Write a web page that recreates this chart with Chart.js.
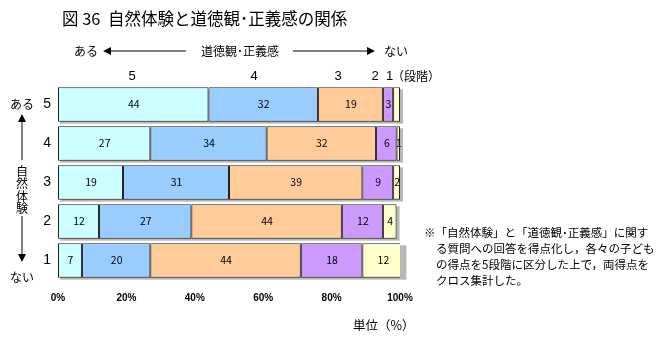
<!DOCTYPE html>
<html>
<head>
<meta charset="utf-8">
<script src="https://cdn.jsdelivr.net/npm/chart.js@4/dist/chart.umd.min.js"></script>
<style>
  body { margin: 0; background: #fff; }
  canvas { display: block; }
</style>
</head>
<body>
<canvas id="chart" width="660" height="338"></canvas>
<script>
// 自然体験の段階 (rows, top to bottom)
var categories = ['5', '4', '3', '2', '1'];
// 道徳観・正義感の段階 (segments, left to right)
var seriesNames = ['5', '4', '3', '2', '1'];
var values5 = [44, 27, 19, 12, 7];
var values4 = [32, 34, 31, 27, 20];
var values3 = [19, 32, 39, 44, 44];
var values2 = [3, 6, 9, 12, 18];
var values1 = [2, 1, 2, 4, 12];
var xTicks = [0, 20, 40, 60, 80, 100];

var colors = ['#ccffff', '#99ccff', '#ffcc99', '#cc99ff', '#ffffcc'];
var FONT = '"Noto Sans CJK JP", "Noto Sans", sans-serif';
var LATIN = '"Liberation Sans", Arial, sans-serif';

var seriesValues = [values5, values4, values3, values2, values1];
var datasets = seriesValues.map(function (v, i) {
    return {
        label: seriesNames[i],
        data: v,
        backgroundColor: colors[i],
        borderColor: '#222',
        borderWidth: 1,
        borderSkipped: false,
        barPercentage: 0.88,
        categoryPercentage: 1.0
    };
});

function arrow(ctx, x1, y1, x2, y2) {
    var ang = Math.atan2(y2 - y1, x2 - x1), h = 8, w = 4;
    ctx.beginPath();
    ctx.moveTo(x1, y1);
    ctx.lineTo(x2 - Math.cos(ang) * h, y2 - Math.sin(ang) * h);
    ctx.stroke();
    ctx.beginPath();
    ctx.moveTo(x2, y2);
    ctx.lineTo(x2 - Math.cos(ang) * h - Math.sin(ang) * w, y2 - Math.sin(ang) * h + Math.cos(ang) * w);
    ctx.lineTo(x2 - Math.cos(ang) * h + Math.sin(ang) * w, y2 - Math.sin(ang) * h - Math.cos(ang) * w);
    ctx.closePath();
    ctx.fill();
}

// grey shadow behind each bar row
var shadowPlugin = {
    id: 'shadow',
    beforeDatasetsDraw: function (chart) {
        var ctx = chart.ctx;
        var first = chart.getDatasetMeta(0).data;
        var last = chart.getDatasetMeta(seriesValues.length - 1).data;
        ctx.save();
        ctx.fillStyle = '#b8b8b8';
        first.forEach(function (bar, i) {
            var h = bar.height, x0 = bar.base, x1 = last[i].x;
            ctx.fillRect(x0 + 2, bar.y - h / 2 + 2, x1 - x0 + 1, h);
        });
        ctx.restore();
    }
};

var labelPlugin = {
    id: 'labels',
    afterDatasetsDraw: function (chart) {
        var ctx = chart.ctx;
        ctx.save();
        ctx.fillStyle = '#000';
        ctx.font = '10.5px ' + FONT;
        ctx.textAlign = 'center';
        ctx.textBaseline = 'middle';
        chart.data.datasets.forEach(function (ds, di) {
            chart.getDatasetMeta(di).data.forEach(function (bar, i) {
                // the thin sliver at the end of the top row carries no label
                if (di === 4 && i === 0) return;
                ctx.fillText(String(ds.data[i]), (bar.x + bar.base) / 2 + 0.5, bar.y);
            });
        });
        ctx.restore();
    }
};

var decoPlugin = {
    id: 'deco',
    afterDraw: function (chart) {
        var ctx = chart.ctx;
        ctx.save();
        ctx.fillStyle = '#000';
        ctx.strokeStyle = '#000';
        ctx.lineWidth = 1;
        ctx.textBaseline = 'middle';

        // title
        ctx.font = '16.5px ' + FONT;
        ctx.textAlign = 'left';
        ctx.fillText('図 36  自然体験と道徳観･正義感の関係', 62, 19);

        // top axis description
        ctx.font = '12px ' + FONT;
        ctx.textAlign = 'center';
        ctx.fillText('ある', 86, 51);
        ctx.fillText('道徳観･正義感', 240, 51);
        ctx.fillText('ない', 396, 51);
        arrow(ctx, 186, 51, 103, 51);
        arrow(ctx, 293, 51, 375, 51);

        // segment headings
        ctx.font = '13px ' + LATIN;
        ctx.fillText(seriesNames[0], 132, 76);
        ctx.fillText(seriesNames[1], 254, 76);
        ctx.fillText(seriesNames[2], 338, 76);
        ctx.fillText(seriesNames[3], 375, 76);
        ctx.textAlign = 'left';
        ctx.fillText(seriesNames[4], 386, 76);
        ctx.font = '12px ' + FONT;
        ctx.fillText('（段階）', 392, 76);

        // left axis description
        ctx.textAlign = 'center';
        ctx.font = '12px ' + FONT;
        ctx.fillText('ある', 22, 104);
        arrow(ctx, 22, 160, 22, 114);
        var chars = ['自', '然', '体', '験'];
        chars.forEach(function (c, i) { ctx.fillText(c, 22, 171 + i * 12.5); });
        arrow(ctx, 22, 216, 22, 262);
        ctx.fillText('ない', 22, 277);

        // unit
        ctx.textAlign = 'left';
        ctx.font = '12.5px ' + FONT;
        ctx.fillText('単位（%）', 353, 325);

        // note
        ctx.font = '11.5px ' + FONT;
        ctx.fillText('※「自然体験」と「道徳観･正義感」に関す', 424, 233);
        ctx.fillText('る質問への回答を得点化し，各々の子ども', 436, 249);
        ctx.fillText('の得点を5段階に区分した上で，両得点を', 436, 265);
        ctx.fillText('クロス集計した。', 436, 281);
        ctx.restore();
    }
};

var ctx_bar = document.getElementById('chart').getContext('2d');
window.natureChart = new Chart(ctx_bar, {
    type: 'bar',
    data: { labels: categories, datasets: datasets },
    options: {
        indexAxis: 'y',
        responsive: false,
        animation: false,
        layout: { padding: { left: 0, right: 260, top: 85, bottom: 0 } },
        plugins: { legend: { display: false }, tooltip: { enabled: false } },
        scales: {
            x: {
                stacked: true,
                min: 0,
                max: 100,
                grid: { display: false, drawTicks: false },
                border: { display: false },
                afterBuildTicks: function (axis) {
                    axis.ticks = xTicks.map(function (v) { return { value: v }; });
                },
                afterFit: function (axis) { axis.height = 58; },
                ticks: {
                    padding: 12,
                    maxRotation: 0,
                    color: '#000',
                    font: { size: 10, weight: 'bold', family: LATIN },
                    callback: function (v) { return v + '%'; }
                }
            },
            y: {
                stacked: true,
                grid: { display: false, drawTicks: false },
                border: { display: false },
                afterFit: function (axis) { axis.width = 58; },
                ticks: {
                    padding: 7,
                    color: '#000',
                    font: { size: 14, family: LATIN }
                }
            }
        }
    },
    plugins: [shadowPlugin, labelPlugin, decoPlugin]
});
</script>
</body>
</html>
